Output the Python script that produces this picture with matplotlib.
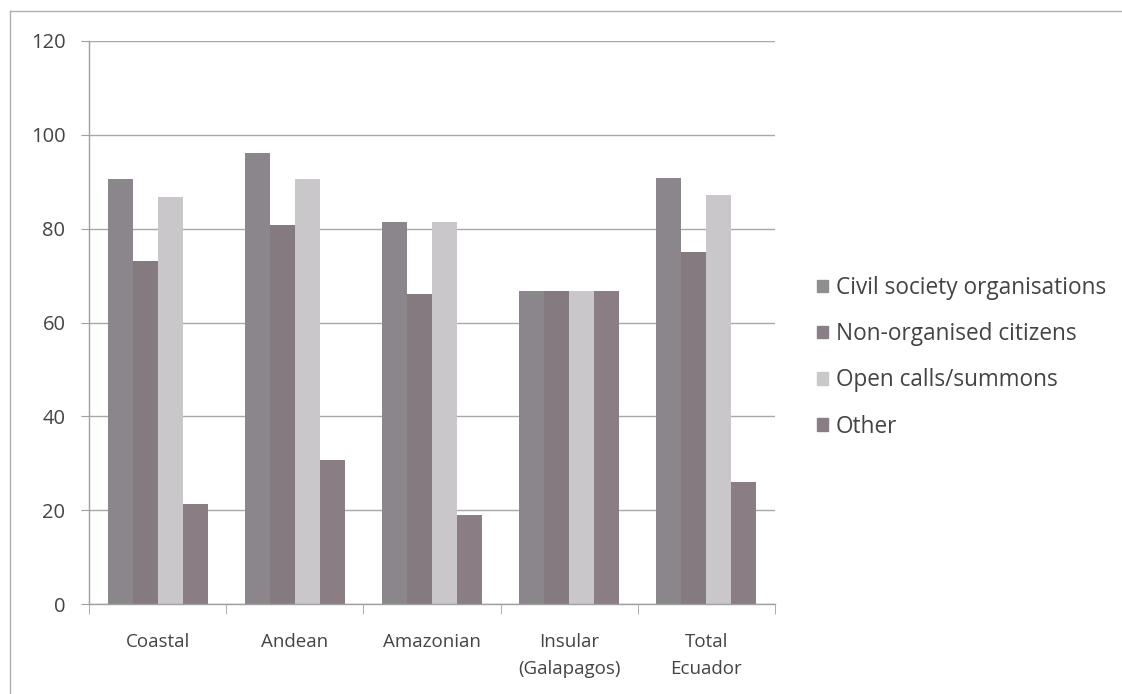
import matplotlib
matplotlib.use("Agg")
import matplotlib.pyplot as plt
import numpy as np

categories = ["Coastal", "Andean", "Amazonian", "Insular\n(Galapagos)", "Total\nEcuador"]
series_names = ["Civil society organisations", "Non-organised citizens",
                "Open calls/summons", "Other"]
civil_society = [90.6, 96.1, 81.5, 66.7, 90.9]
non_organised = [73.2, 80.8, 66.0, 66.7, 75.1]
open_calls = [86.7, 90.5, 81.5, 66.7, 87.1]
other = [21.3, 30.6, 19.0, 66.7, 26.1]
y_ticks = [0, 20, 40, 60, 80, 100, 120]

series = [civil_society, non_organised, open_calls, other]
colors = ["#8b868b", "#867a81", "#c9c7c9", "#8a7d84"]
legend_colors = ["#8f8f8f", "#8a7f86", "#c9c9c9", "#8a7e85"]

plt.rcParams["font.family"] = ["Open Sans", "DejaVu Sans"]

fig = plt.figure(figsize=(11.22, 6.94), dpi=100)
fig.patch.set_facecolor("white")
ax = fig.add_axes([89 / 1122, 90 / 694, 686 / 1122, 563 / 694])

x = np.arange(len(categories))
width = 0.182
offsets = (np.arange(4) - 1.5) * width
for vals, off, col in zip(series, offsets, colors):
    ax.bar(x + off, vals, width=width, color=col, edgecolor="none", zorder=2)

ax.set_xlim(-0.5, len(categories) - 0.5)
ax.set_ylim(0, 120)
ax.set_yticks(y_ticks)
ax.set_yticklabels([str(t) for t in y_ticks], fontsize=14.5, color="#444444")
ax.yaxis.grid(True, color="#a8a8a8", linewidth=1.0, zorder=0)
ax.set_axisbelow(True)

ax.set_xticks(x)
ax.set_xticklabels(categories, fontsize=13.5, color="#444444", linespacing=1.65)
ax.tick_params(axis="x", length=0, pad=21)
ax.tick_params(axis="y", length=6, color="#a0a0a0", pad=11)
# category separator ticks
ax.set_xticks(np.arange(-0.5, len(categories)), minor=True)
ax.tick_params(axis="x", which="minor", length=7, color="#a0a0a0")

for side in ["top", "right"]:
    ax.spines[side].set_visible(False)
for side in ["left", "bottom"]:
    ax.spines[side].set_color("#a0a0a0")
    ax.spines[side].set_linewidth(1.0)

# legend
handles = [plt.Rectangle((0, 0), 1, 1, color=c) for c in legend_colors]
leg = fig.legend(handles, series_names, loc="upper left",
                 bbox_to_anchor=(808 / 1122, 1 - 267 / 694),
                 frameon=False, fontsize=16.3, handlelength=0.48,
                 handleheight=0.48, handletextpad=0.35, labelspacing=0.98,
                 borderaxespad=0)
for t in leg.get_texts():
    t.set_color("#444444")

# chart area frame
fig.add_artist(plt.Line2D([10 / 1122, 10 / 1122], [0, 1 - 11 / 694],
                          color="#b0b0b0", linewidth=1.0))
fig.add_artist(plt.Line2D([10 / 1122, 1], [1 - 11 / 694, 1 - 11 / 694],
                          color="#b0b0b0", linewidth=1.0))

fig.savefig("out.png", dpi=100, facecolor="white")
